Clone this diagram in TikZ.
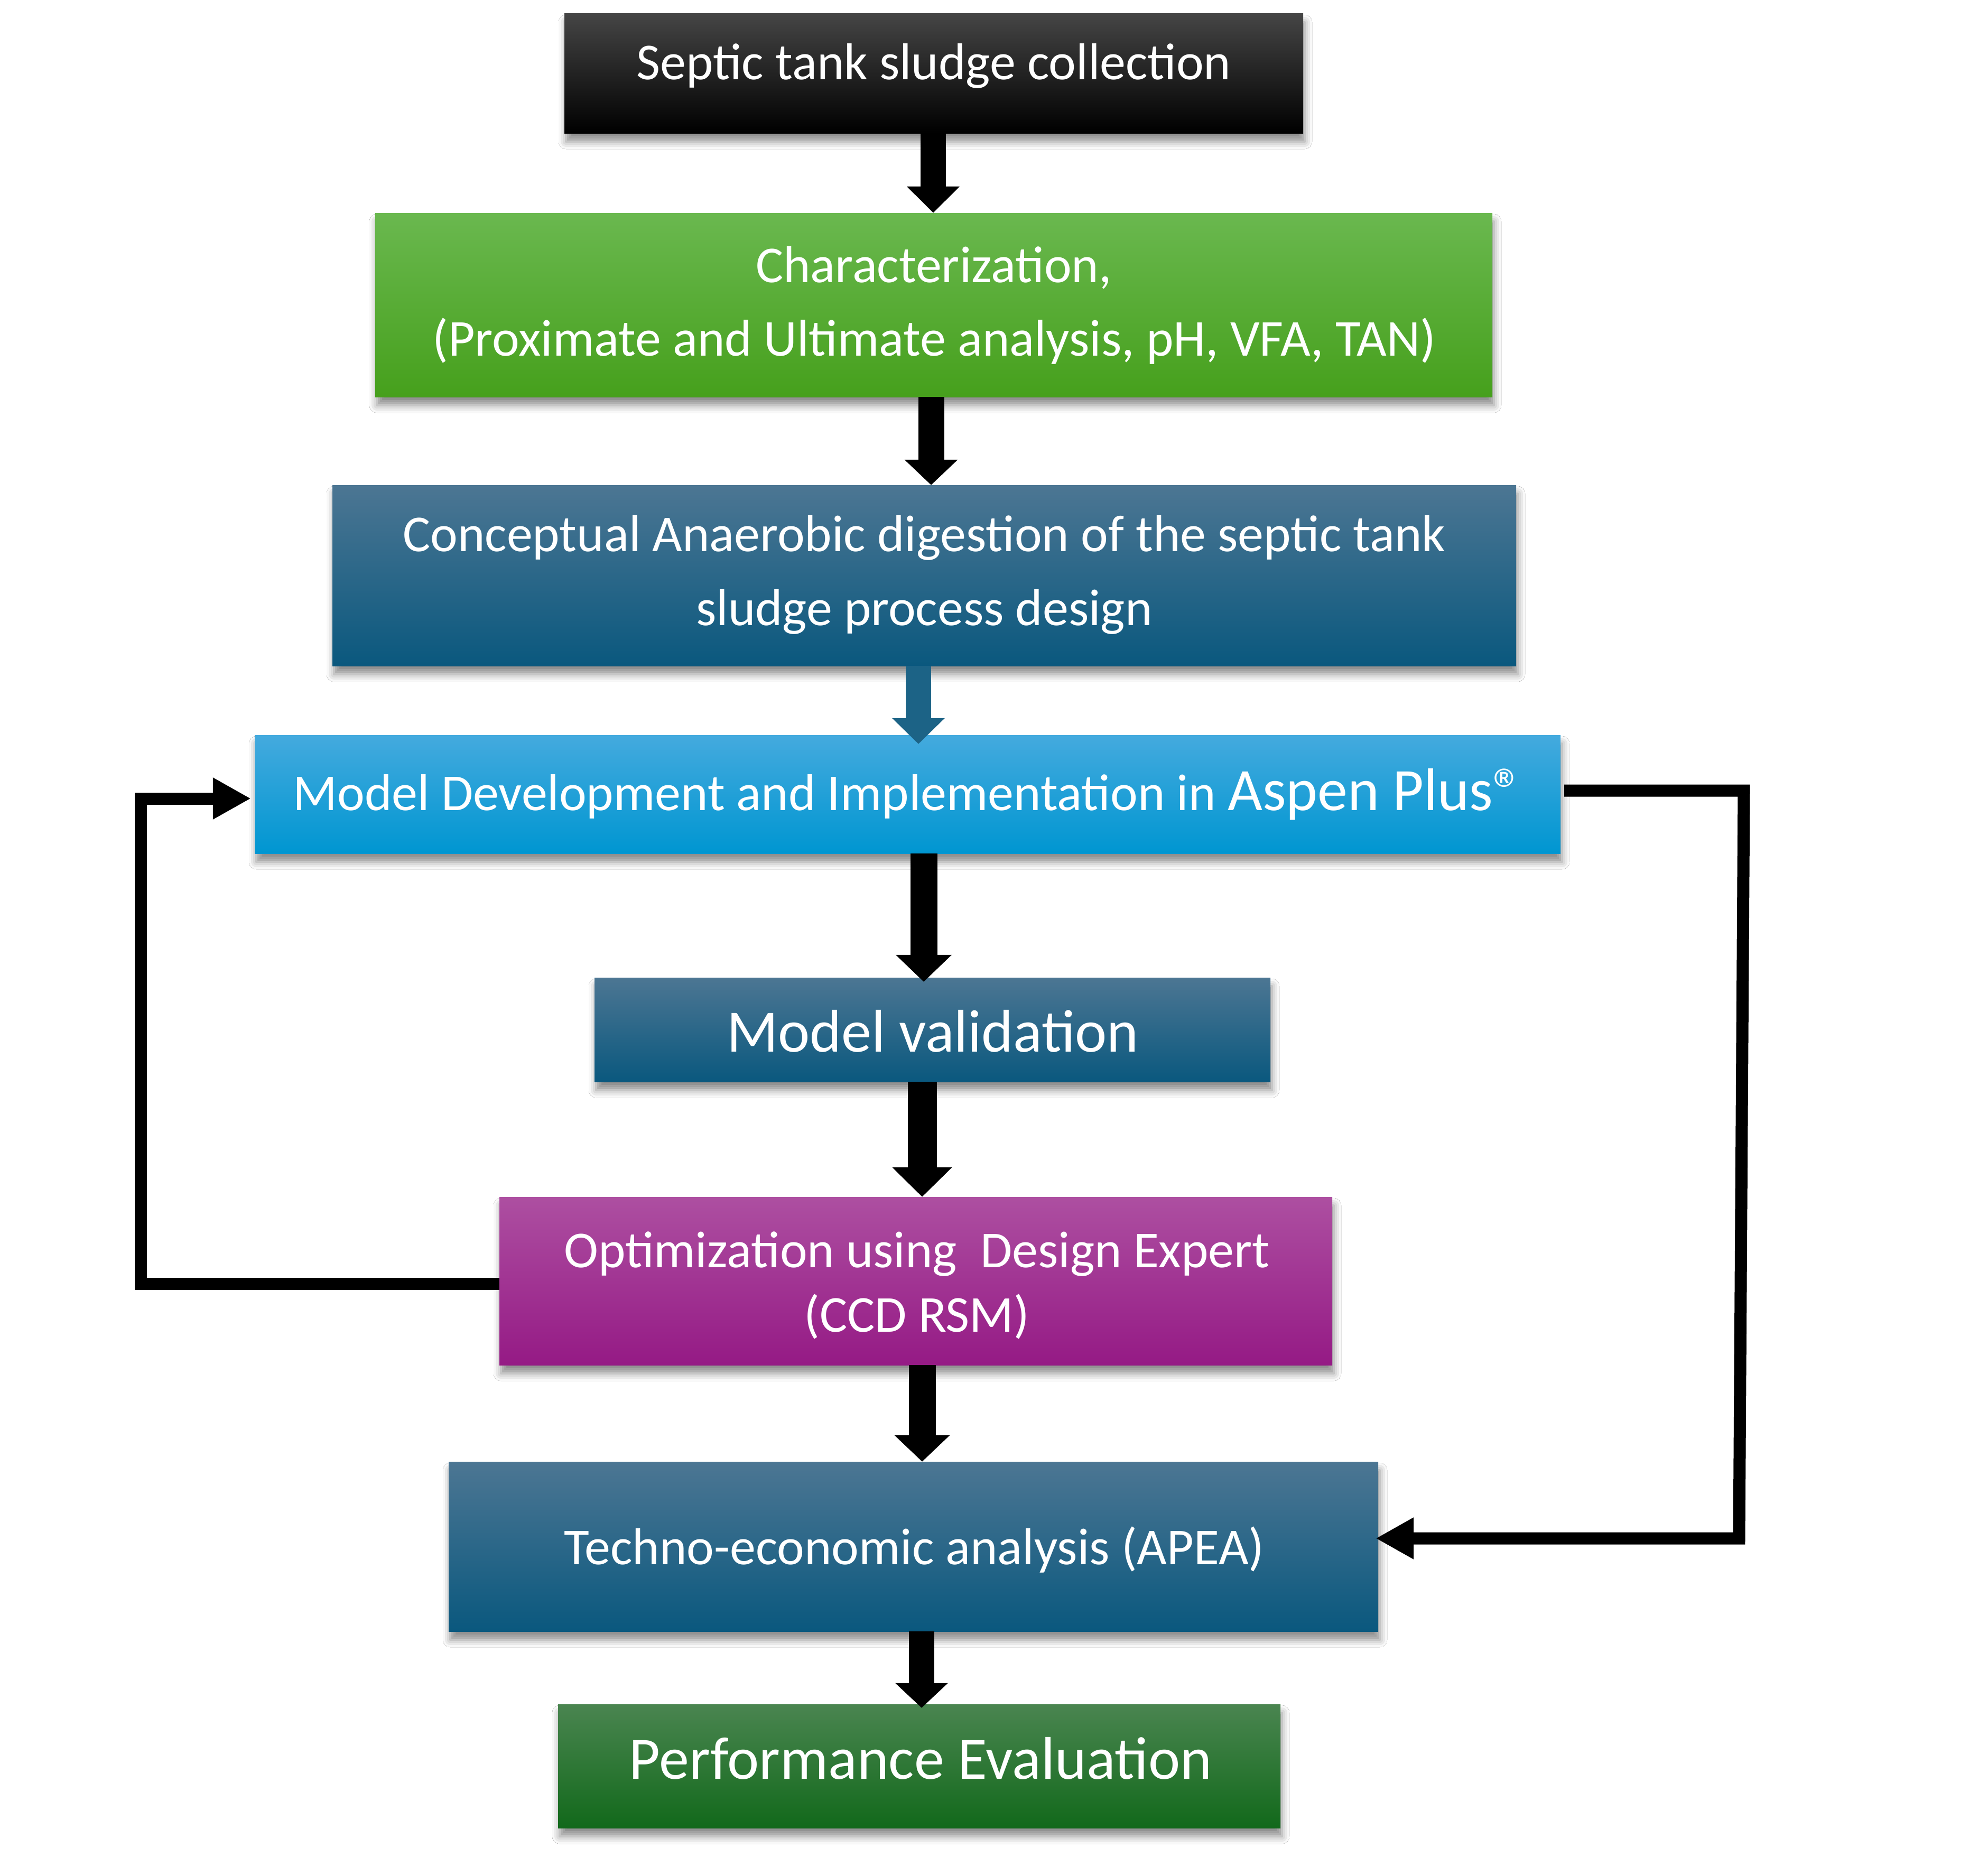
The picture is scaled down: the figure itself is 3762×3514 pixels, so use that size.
\documentclass[tikz,border=0pt]{standalone}
\usepackage{fontspec}
\setmainfont{Carlito}
\usetikzlibrary{arrows.meta,shadows.blur}
\definecolor{blkTop}{HTML}{454545}
\definecolor{grnTop}{HTML}{6AB84F}
\definecolor{grnBot}{HTML}{46A01C}
\definecolor{dbTop}{HTML}{4C7693}
\definecolor{dbBot}{HTML}{0A587E}
\definecolor{lbTop}{HTML}{44AADE}
\definecolor{lbBot}{HTML}{0096D1}
\definecolor{puTop}{HTML}{AD4FA1}
\definecolor{puBot}{HTML}{951A85}
\definecolor{dgTop}{HTML}{4A8550}
\definecolor{dgBot}{HTML}{12691B}
\definecolor{arrBlue}{HTML}{1C6386}
\tikzset{
  box/.style={rectangle, inner sep=0pt, draw=none,
    blur shadow={shadow xshift=3pt, shadow yshift=-16pt, shadow blur radius=14pt, shadow opacity=45}},
  txt/.style={text=white, inner sep=0pt, anchor=base, font=\fontsize{98}{118}\selectfont},
  bigtxt/.style={text=white, inner sep=0pt, anchor=base, font=\fontsize{114}{130}\selectfont},
  loopline/.style={line width=23pt, line join=miter, -{Triangle[length=72pt,width=74pt]}}
}
\begin{document}
\begin{tikzpicture}[x=1pt,y=-1pt]
\fill[white] (0,0) rectangle (3762,3514);
\useasboundingbox (0,0) rectangle (3762,3514);

% boxes
\node[box, minimum width=1398pt, minimum height=226pt, top color=blkTop, middle color=black, bottom color=black] (b1) at (1767,139) {};
\node[box, minimum width=2114pt, minimum height=348pt, top color=grnTop, bottom color=grnBot] (b2) at (1767,577) {};
\node[box, minimum width=2240pt, minimum height=342pt, top color=dbTop, bottom color=dbBot] (b3) at (1749,1089) {};
\node[box, minimum width=2471pt, minimum height=224pt, top color=lbTop, bottom color=lbBot] (b4) at (1717.5,1503) {};
\node[box, minimum width=1279pt, minimum height=197pt, top color=dbTop, bottom color=dbBot] (b5) at (1764.5,1948.5) {};
\node[box, minimum width=1576pt, minimum height=318pt, top color=puTop, bottom color=puBot] (b6) at (1733,2424) {};
\node[box, minimum width=1759pt, minimum height=321pt, top color=dbTop, bottom color=dbBot] (b7) at (1728.5,2926.5) {};
\node[box, minimum width=1367pt, minimum height=234pt, top color=dgTop, bottom color=dgBot] (b8) at (1739.5,3342) {};

% texts
\node[txt] (t1) at (1767,150) {Septic tank sludge collection};
\node[txt] (t2a) at (1767,534) {Characterization,};
\node[txt] (t2b) at (1768,673) {(Proximate and Ultimate analysis, pH, VFA, TAN)};
\node[txt] (t3a) at (1749,1043) {Conceptual Anaerobic digestion of the septic tank};
\node[txt] (t3b) at (1749,1183) {sludge process design};
\node[txt] (t4) at (1719,1533) {Model Development and Implementation in {\fontsize{114}{130}\selectfont Aspen Plus®}};
\node[bigtxt] (t5) at (1765,1990) {Model validation};
\node[txt] (t6a) at (1735,2398) {Optimization using\ \ Design Expert};
\node[txt] (t6b) at (1735,2520) {(CCD RSM)};
\node[txt] (t7) at (1730,2960) {Techno-economic analysis (APEA)};
\node[bigtxt] (t8) at (1742,3366) {Performance Evaluation};

% vertical flow arrows
\draw[line width=48pt, -{Triangle[length=50pt,width=97pt]}] ([xshift=-1pt]b1.south) -- ([xshift=-1pt]b1.south |- b2.north);
\draw[line width=49pt, -{Triangle[length=48pt,width=98pt]}] ([xshift=-5pt]b2.south) -- ([xshift=-5pt]b2.south |- b3.north);
\draw[arrBlue, line width=48pt, -{Triangle[length=49pt,width=97pt]}] ([xshift=-11pt]b3.south) -- ([xshift=-11pt,yshift=-17pt]b3.south |- b4.north);
\draw[line width=51pt, -{Triangle[length=51pt,width=103pt]}] ([xshift=30.5pt]b4.south) -- ([xshift=30.5pt,yshift=-8pt]b4.south |- b5.north);
\draw[line width=55pt, -{Triangle[length=56pt,width=110pt]}] ([xshift=-19.5pt]b5.south) -- ([xshift=-19.5pt]b5.south |- b6.north);
\draw[line width=51pt, -{Triangle[length=50pt,width=102pt]}] ([xshift=12pt]b6.south) -- ([xshift=12pt]b6.south |- b7.north);
\draw[line width=48pt, -{Triangle[length=47pt,width=97pt]}] ([xshift=15.5pt]b7.south) -- ([xshift=15.5pt,yshift=-7pt]b7.south |- b8.north);

% feedback loops
\coordinate (lc) at (266,1511);
\draw[loopline] ([yshift=-5pt]b6.west) -| (lc) -- ([xshift=-7pt]b4.west |- lc);
\coordinate (rc1) at (3300,1496);
\coordinate (rc2) at (3291,2911);
\draw[loopline] ([xshift=7pt]b4.east |- rc1) -- (rc1) -- (rc2) -- ([xshift=-5pt]b7.east |- rc2);
\end{tikzpicture}
\end{document}
